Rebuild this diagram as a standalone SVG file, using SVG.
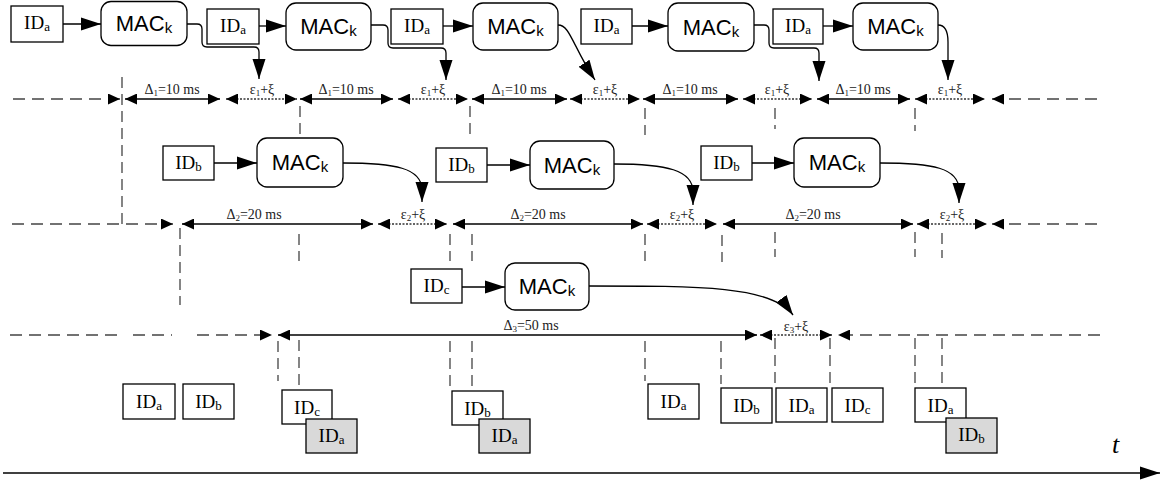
<svg xmlns="http://www.w3.org/2000/svg" width="1161" height="482" viewBox="0 0 1161 482">
<style>
.bx{fill:#fff;stroke:#000;stroke-width:1.3}
.gr{fill:#d9d9d9;stroke:#000;stroke-width:1.3}
.mac{fill:#fff;stroke:#000;stroke-width:1.3}
.id{font-family:"Liberation Serif",serif;font-size:19px;text-anchor:middle;fill:#000}
.ids{font-size:13px}
.mt{font-family:"Liberation Sans",Arial,sans-serif;font-size:22px;text-anchor:middle;fill:#000}
.ms{font-size:15px}
.ln{fill:none;stroke:#000;stroke-width:1.3}
.da{fill:none;stroke:#444;stroke-width:1.3;stroke-dasharray:12,7}
.vd{fill:none;stroke:#444;stroke-width:1.3;stroke-dasharray:11,6}
.dt{fill:none;stroke:#333;stroke-width:1.6;stroke-dasharray:2,1.5}
.lab{font-family:"Liberation Serif",serif;font-size:14px;text-anchor:middle;fill:#222}
.s{font-size:9px}
.t{font-family:"Liberation Serif",serif;font-size:26px;font-style:italic;fill:#000}
</style>
<defs>
<marker id="a" markerUnits="userSpaceOnUse" markerWidth="12" markerHeight="11" refX="12" refY="5.5" orient="auto-start-reverse"><path d="M0,0 L12,5.5 L0,11 z" fill="#000"/></marker>
<marker id="b" markerUnits="userSpaceOnUse" markerWidth="20" markerHeight="14" refX="20" refY="7" orient="auto"><path d="M0,0.5 L20,7 L0,13.5 z" fill="#000"/></marker>
</defs>

<g id="connectors">
<!-- ID to MAC arrows -->
<path class="ln" d="M63,24 H101" marker-end="url(#b)"/>
<path class="ln" d="M259,26 H286" marker-end="url(#b)"/>
<path class="ln" d="M443,26 H473" marker-end="url(#b)"/>
<path class="ln" d="M632,26 H668" marker-end="url(#b)"/>
<path class="ln" d="M822,26 H853" marker-end="url(#b)"/>
<path class="ln" d="M214,163 H257" marker-end="url(#b)"/>
<path class="ln" d="M487,165 H530" marker-end="url(#b)"/>
<path class="ln" d="M752,163 H794" marker-end="url(#b)"/>
<path class="ln" d="M462,287 H505" marker-end="url(#b)"/>
<!-- MAC to timeline -->
<path class="ln" d="M187,24 H197 Q202,24 202,29 V42 Q202,47 207,47 H254 Q259,47 259,52 V79" marker-end="url(#b)"/>
<path class="ln" d="M371,25 H383 Q388,25 388,30 V43 Q388,48 393,48 H441 Q446,48 446,53 V80" marker-end="url(#b)"/>
<path class="ln" d="M558,25 C570,25 572,45 595,80" marker-end="url(#b)"/>
<path class="ln" d="M754,25 H764 Q769,25 769,30 V43 Q769,48 774,48 H814 Q819,48 819,53 V81" marker-end="url(#b)"/>
<path class="ln" d="M938,25 C946,25 948,32 948,42 V80" marker-end="url(#b)"/>
<path class="ln" d="M343,163 C395,163 422,168 422,190 V202" marker-end="url(#b)"/>
<path class="ln" d="M614,164 C667,164 693,170 693,192 V205" marker-end="url(#b)"/>
<path class="ln" d="M880,163 C933,163 959,168 959,190 V203" marker-end="url(#b)"/>
<path class="ln" d="M589,286 C700,286 772,286 793,315" marker-end="url(#b)"/>

<!-- row 1 timeline -->
<path class="da" d="M13,99 H120" marker-end="url(#a)"/>
<path class="vd" d="M122,77 V224"/>
<path class="ln" d="M125,99 H220" marker-start="url(#a)" marker-end="url(#a)"/>
<path class="ln" d="M300,99 H393" marker-start="url(#a)" marker-end="url(#a)"/>
<path class="ln" d="M472,99 H567" marker-start="url(#a)" marker-end="url(#a)"/>
<path class="ln" d="M643,99 H738" marker-start="url(#a)" marker-end="url(#a)"/>
<path class="ln" d="M817,99 H910" marker-start="url(#a)" marker-end="url(#a)"/>
<path class="dt" d="M226,99 H297" marker-start="url(#a)" marker-end="url(#a)"/>
<path class="dt" d="M398,99 H468" marker-start="url(#a)" marker-end="url(#a)"/>
<path class="dt" d="M570,99 H640" marker-start="url(#a)" marker-end="url(#a)"/>
<path class="dt" d="M743,99 H812" marker-start="url(#a)" marker-end="url(#a)"/>
<path class="dt" d="M915,99 H985" marker-start="url(#a)" marker-end="url(#a)"/>
<path class="da" d="M1097,99 H992" marker-end="url(#a)"/>
<path class="vd" d="M300,106 V136 M470,106 V136 M645,108 V135 M775,108 V129 M915,108 V131"/>

<!-- row 2 timeline -->
<path class="da" d="M12,224 H173" marker-end="url(#a)"/>
<path class="vd" d="M180,228 V305"/>
<path class="ln" d="M182,224 H373" marker-start="url(#a)" marker-end="url(#a)"/>
<path class="ln" d="M453,224 H643" marker-start="url(#a)" marker-end="url(#a)"/>
<path class="ln" d="M723,224 H913" marker-start="url(#a)" marker-end="url(#a)"/>
<path class="dt" d="M378,224 H447" marker-start="url(#a)" marker-end="url(#a)"/>
<path class="dt" d="M647,224 H717" marker-start="url(#a)" marker-end="url(#a)"/>
<path class="dt" d="M917,224 H987" marker-start="url(#a)" marker-end="url(#a)"/>
<path class="da" d="M1097,224 H992" marker-end="url(#a)"/>
<path class="vd" d="M299,234 V261 M450,234 V261 M472,234 V261 M645,234 V261 M722,235 V262 M775,232 V257 M915,232 V257 M942,233 V258"/>

<!-- row 3 timeline -->
<path class="da" d="M10,335 H117 M133,335 H172"/>
<path class="da" d="M197,335 H272" marker-end="url(#a)"/>
<path class="ln" d="M278,335 H757" marker-start="url(#a)" marker-end="url(#a)"/>
<path class="dt" d="M760,335 H832" marker-start="url(#a)" marker-end="url(#a)"/>
<path class="da" d="M1100,335 H838" marker-end="url(#a)"/>
<path class="vd" d="M278,341 V381 M299,340 V386 M450,341 V386 M472,341 V387 M645,341 V381 M721,341 V384 M775,338 V384 M830,338 V385 M915,338 V385 M942,338 V383"/>

<!-- time axis -->
<path class="ln" d="M3,473 H1160" marker-end="url(#b)"/>
</g>

<g id="labels">
<text class="lab" x="172" y="94">Δ<tspan class="s" dy="2">1</tspan><tspan dy="-2">=10 ms</tspan></text>
<text class="lab" x="346" y="94">Δ<tspan class="s" dy="2">1</tspan><tspan dy="-2">=10 ms</tspan></text>
<text class="lab" x="519" y="94">Δ<tspan class="s" dy="2">1</tspan><tspan dy="-2">=10 ms</tspan></text>
<text class="lab" x="690" y="94">Δ<tspan class="s" dy="2">1</tspan><tspan dy="-2">=10 ms</tspan></text>
<text class="lab" x="863" y="94">Δ<tspan class="s" dy="2">1</tspan><tspan dy="-2">=10 ms</tspan></text>
<text class="lab" x="262" y="94">ε<tspan class="s" dy="2">1</tspan><tspan dy="-2">+ξ</tspan></text>
<text class="lab" x="433" y="94">ε<tspan class="s" dy="2">1</tspan><tspan dy="-2">+ξ</tspan></text>
<text class="lab" x="605" y="94">ε<tspan class="s" dy="2">1</tspan><tspan dy="-2">+ξ</tspan></text>
<text class="lab" x="777" y="94">ε<tspan class="s" dy="2">1</tspan><tspan dy="-2">+ξ</tspan></text>
<text class="lab" x="950" y="94">ε<tspan class="s" dy="2">1</tspan><tspan dy="-2">+ξ</tspan></text>

<text class="lab" x="254" y="219">Δ<tspan class="s" dy="2">2</tspan><tspan dy="-2">=20 ms</tspan></text>
<text class="lab" x="538" y="219">Δ<tspan class="s" dy="2">2</tspan><tspan dy="-2">=20 ms</tspan></text>
<text class="lab" x="813" y="219">Δ<tspan class="s" dy="2">2</tspan><tspan dy="-2">=20 ms</tspan></text>
<text class="lab" x="413" y="219">ε<tspan class="s" dy="2">2</tspan><tspan dy="-2">+ξ</tspan></text>
<text class="lab" x="682" y="219">ε<tspan class="s" dy="2">2</tspan><tspan dy="-2">+ξ</tspan></text>
<text class="lab" x="952" y="219">ε<tspan class="s" dy="2">2</tspan><tspan dy="-2">+ξ</tspan></text>

<text class="lab" x="531" y="330">Δ<tspan class="s" dy="2">3</tspan><tspan dy="-2">=50 ms</tspan></text>
<text class="lab" x="796" y="331">ε<tspan class="s" dy="2">3</tspan><tspan dy="-2">+ξ</tspan></text>

<text class="t" x="1112" y="453">t</text>
</g>

<!-- row 1 nodes -->
<g id="r1_id1"><rect class="bx" x="11" y="6" width="52" height="36"/><text class="id" x="37" y="29">ID<tspan class="ids" dy="2">a</tspan></text></g>
<g id="r1_mac1"><rect class="mac" x="101" y="1.5" width="86" height="44" rx="10"/><text class="mt" x="144" y="31">MAC<tspan class="ms" dy="2">k</tspan></text></g>
<g id="r1_id2"><rect class="bx" x="207" y="9" width="52" height="35"/><text class="id" x="233" y="32">ID<tspan class="ids" dy="2">a</tspan></text></g>
<g id="r1_mac2"><rect class="mac" x="286" y="3" width="85" height="47" rx="10"/><text class="mt" x="328.5" y="34">MAC<tspan class="ms" dy="2">k</tspan></text></g>
<g id="r1_id3"><rect class="bx" x="391" y="9" width="52" height="35"/><text class="id" x="417" y="32">ID<tspan class="ids" dy="2">a</tspan></text></g>
<g id="r1_mac3"><rect class="mac" x="473" y="3" width="85" height="47" rx="10"/><text class="mt" x="515.5" y="34">MAC<tspan class="ms" dy="2">k</tspan></text></g>
<g id="r1_id4"><rect class="bx" x="581" y="9" width="51" height="35"/><text class="id" x="606.5" y="32">ID<tspan class="ids" dy="2">a</tspan></text></g>
<g id="r1_mac4"><rect class="mac" x="668" y="3" width="86" height="48" rx="10"/><text class="mt" x="711" y="35">MAC<tspan class="ms" dy="2">k</tspan></text></g>
<g id="r1_id5"><rect class="bx" x="773" y="9" width="50" height="35"/><text class="id" x="798" y="32">ID<tspan class="ids" dy="2">a</tspan></text></g>
<g id="r1_mac5"><rect class="mac" x="853" y="3" width="85" height="47" rx="10"/><text class="mt" x="895.5" y="34">MAC<tspan class="ms" dy="2">k</tspan></text></g>

<!-- row 2 nodes -->
<g id="r2_id1"><rect class="bx" x="163" y="146" width="51" height="34"/><text class="id" x="188.5" y="169">ID<tspan class="ids" dy="2">b</tspan></text></g>
<g id="r2_mac1"><rect class="mac" x="257" y="138" width="86" height="49" rx="10"/><text class="mt" x="300" y="170">MAC<tspan class="ms" dy="2">k</tspan></text></g>
<g id="r2_id2"><rect class="bx" x="436" y="148" width="51" height="34"/><text class="id" x="461.5" y="171">ID<tspan class="ids" dy="2">b</tspan></text></g>
<g id="r2_mac2"><rect class="mac" x="530" y="141" width="84" height="48" rx="10"/><text class="mt" x="572" y="173">MAC<tspan class="ms" dy="2">k</tspan></text></g>
<g id="r2_id3"><rect class="bx" x="701" y="146" width="51" height="34"/><text class="id" x="726.5" y="169">ID<tspan class="ids" dy="2">b</tspan></text></g>
<g id="r2_mac3"><rect class="mac" x="794" y="138" width="86" height="49" rx="10"/><text class="mt" x="837" y="170">MAC<tspan class="ms" dy="2">k</tspan></text></g>

<!-- row 3 nodes -->
<g id="r3_id1"><rect class="bx" x="411" y="269" width="51" height="34"/><text class="id" x="436.5" y="292">ID<tspan class="ids" dy="2">c</tspan></text></g>
<g id="r3_mac1"><rect class="mac" x="505" y="263" width="84" height="47" rx="10"/><text class="mt" x="547" y="294">MAC<tspan class="ms" dy="2">k</tspan></text></g>

<!-- bottom packets -->
<g id="p1"><rect class="bx" x="123" y="384" width="52" height="35"/><text class="id" x="149" y="408">ID<tspan class="ids" dy="2">a</tspan></text></g>
<g id="p2"><rect class="bx" x="183" y="384" width="51" height="35"/><text class="id" x="208.5" y="408">ID<tspan class="ids" dy="2">b</tspan></text></g>
<g id="p3"><rect class="bx" x="282" y="390" width="50" height="34"/><text class="id" x="307" y="414">ID<tspan class="ids" dy="2">c</tspan></text></g>
<g id="p4"><rect class="gr" x="306" y="419" width="51" height="34"/><text class="id" x="331.5" y="442">ID<tspan class="ids" dy="2">a</tspan></text></g>
<g id="p5"><rect class="bx" x="452" y="391" width="51" height="34"/><text class="id" x="477.5" y="415">ID<tspan class="ids" dy="2">b</tspan></text></g>
<g id="p6"><rect class="gr" x="479" y="419" width="51" height="34"/><text class="id" x="504.5" y="442">ID<tspan class="ids" dy="2">a</tspan></text></g>
<g id="p7"><rect class="bx" x="648" y="384" width="51" height="35"/><text class="id" x="673.5" y="408">ID<tspan class="ids" dy="2">a</tspan></text></g>
<g id="p8"><rect class="bx" x="721" y="388" width="51" height="35"/><text class="id" x="746.5" y="412">ID<tspan class="ids" dy="2">b</tspan></text></g>
<g id="p9"><rect class="bx" x="776" y="388" width="51" height="34"/><text class="id" x="801.5" y="412">ID<tspan class="ids" dy="2">a</tspan></text></g>
<g id="p10"><rect class="bx" x="832" y="388" width="51" height="34"/><text class="id" x="857.5" y="412">ID<tspan class="ids" dy="2">c</tspan></text></g>
<g id="p11"><rect class="bx" x="915" y="388" width="51" height="34"/><text class="id" x="940.5" y="412">ID<tspan class="ids" dy="2">a</tspan></text></g>
<g id="p12"><rect class="gr" x="946" y="418" width="51" height="35"/><text class="id" x="971.5" y="441">ID<tspan class="ids" dy="2">b</tspan></text></g>
</svg>
